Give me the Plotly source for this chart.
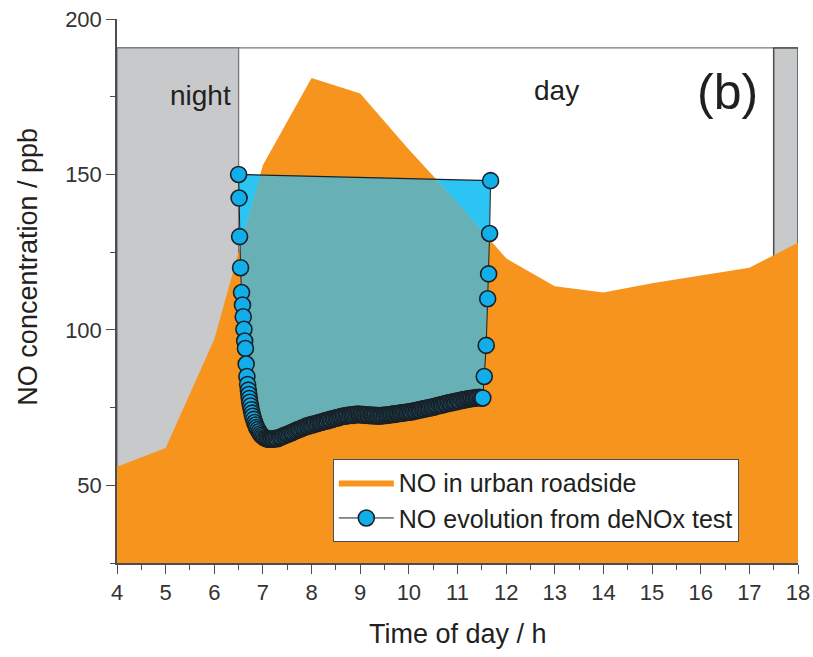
import numpy as np
import plotly.graph_objects as go

# ---------------- data ----------------
# NO in urban roadside (hourly)
road_time = [4, 5, 6, 7, 8, 9, 10, 11, 12, 13, 14, 15, 16, 17, 18]
road_no = [56, 62, 97, 153, 181, 176, 158, 141, 123, 114, 112, 115, 117.5, 120, 128]

# NO evolution from deNOx test (time-ordered)
denox_time = [
    6.500, 6.510, 6.520, 6.540, 6.560, 6.580, 6.595, 6.610, 6.625, 6.640, 6.655, 6.670, 6.685, 6.700,
    6.710, 6.720, 6.730, 6.745, 6.760, 6.775, 6.790, 6.810, 6.830, 6.850, 6.870, 6.895, 6.920, 6.945,
    6.970, 7.000, 7.030, 7.060, 7.090, 7.120, 7.150, 7.180, 7.210, 7.240, 7.270, 7.300, 7.330, 7.360,
    7.390, 7.420, 7.450, 7.480, 7.510, 7.540, 7.570, 7.600, 7.630, 7.660, 7.690, 7.720, 7.750, 7.780,
    7.810, 7.840, 7.870, 7.900, 7.930, 7.960, 7.990, 8.020, 8.050, 8.080, 8.110, 8.140, 8.170, 8.200,
    8.230, 8.260, 8.290, 8.320, 8.350, 8.380, 8.410, 8.440, 8.470, 8.500, 8.530, 8.560, 8.590, 8.620,
    8.650, 8.680, 8.710, 8.740, 8.770, 8.800, 8.830, 8.860, 8.890, 8.920, 8.950, 8.980, 9.010, 9.040,
    9.070, 9.100, 9.130, 9.160, 9.190, 9.220, 9.250, 9.280, 9.310, 9.340, 9.370, 9.400, 9.430, 9.460,
    9.490, 9.520, 9.550, 9.580, 9.610, 9.640, 9.670, 9.700, 9.730, 9.760, 9.790, 9.820, 9.850, 9.880,
    9.910, 9.940, 9.970, 10.000, 10.030, 10.060, 10.090, 10.120, 10.150, 10.180, 10.210, 10.240, 10.270,
    10.300, 10.330, 10.360, 10.390, 10.420, 10.450, 10.480, 10.510, 10.540, 10.570, 10.600, 10.630,
    10.660, 10.690, 10.720, 10.750, 10.780, 10.810, 10.840, 10.870, 10.900, 10.930, 10.960, 10.990,
    11.020, 11.050, 11.080, 11.110, 11.140, 11.170, 11.200, 11.230, 11.260, 11.290, 11.320, 11.350,
    11.380, 11.410, 11.440, 11.470, 11.500, 11.520,
    11.550, 11.590, 11.620, 11.640, 11.660, 11.680,
]
denox_no = [
    150.0, 142.4, 130.0, 120.0, 112.0, 108.0, 104.2, 100.2, 96.4, 94.0, 89.0, 85.0, 82.4, 80.6,
    79.2, 77.9, 76.7, 75.5, 74.3, 73.2, 72.2, 71.2, 70.2, 69.4, 68.6, 67.9, 67.2, 66.6,
    66.1, 65.7, 65.3, 65.1, 64.9, 64.8, 64.8, 64.9, 64.8, 65.0, 65.1, 65.0, 65.3, 65.5,
    65.6, 65.9, 66.0, 66.3, 66.4, 66.6, 66.9, 67.0, 67.2, 67.5, 67.6, 67.9, 68.0, 68.2,
    68.5, 68.6, 68.8, 69.1, 69.0, 69.3, 69.5, 69.4, 69.7, 69.9, 69.8, 70.1, 70.3, 70.2,
    70.5, 70.6, 70.8, 70.7, 71.0, 71.2, 71.1, 71.4, 71.5, 71.7, 71.6, 71.9, 72.0, 72.1,
    72.3, 72.2, 72.4, 72.5, 72.4, 72.6, 72.7, 72.5, 72.8, 72.7, 72.9, 72.8, 72.6, 72.8,
    72.7, 72.5, 72.7, 72.6, 72.4, 72.6, 72.5, 72.3, 72.5, 72.4, 72.2, 72.4, 72.3, 72.5,
    72.4, 72.6, 72.5, 72.7, 72.6, 72.8, 72.9, 72.8, 73.0, 73.1, 73.0, 73.2, 73.3, 73.2,
    73.4, 73.5, 73.4, 73.6, 73.7, 73.6, 73.9, 74.0, 73.9, 74.2, 74.3, 74.2, 74.5,
    74.6, 74.5, 74.8, 74.9, 74.8, 75.1, 75.2, 75.1, 75.4, 75.6, 75.5, 75.8,
    75.9, 75.8, 76.1, 76.3, 76.2, 76.5, 76.6, 76.5, 76.8, 76.9, 76.8, 77.1,
    77.2, 77.1, 77.4, 77.5, 77.4, 77.6, 77.8, 77.7, 77.9, 78.0, 77.9, 78.1,
    78.2, 78.1, 78.3, 78.2, 78.1, 78.1,
    85.0, 95.0, 110.0, 118.0, 131.0, 148.0,
]

# day / night periods
day_start = 4
sunrise = 6.5
sunset = 17.5
day_end = 18
shade_top = 190.7

x_tick_values = list(range(4, 19))
y_tick_values = [50, 100, 150, 200]

# ---------------- colours / fonts ----------------
ORANGE = "#F7941D"
TEAL = "#67B0B5"
CYAN = "#2BC4F3"
MARKER = "#12AEEA"
DARK = "#1A2025"
GREY = "#C8C9CB"
GREY_LINE = "#77787B"
AXIS = "#4D4D4F"
TEXT = "#231F20"
FONT = "Liberation Sans, Arial, sans-serif"

# ---------------- derived fill regions of the deNOx loop ----------------
dx = np.array(denox_time)
dy = np.array(denox_no)
grid = np.union1d(np.linspace(dx.min(), dx.max(), 900), dx)
lower = np.interp(grid, dx, dy)
upper = np.interp(grid, [dx[0], dx[-1]], [dy[0], dy[-1]])
road = np.interp(grid, road_time, road_no)
mid = np.clip(road, lower, upper)

fig = go.Figure()

fig.add_trace(go.Scatter(
    x=road_time, y=road_no, mode="lines", fill="tozeroy",
    fillcolor=ORANGE, line=dict(color=ORANGE, width=0),
    name="NO in urban roadside", hoverinfo="skip", legendrank=1,
))
fig.add_trace(go.Scatter(
    x=grid, y=lower, mode="lines", line=dict(width=0, color=TEAL),
    showlegend=False, hoverinfo="skip",
))
fig.add_trace(go.Scatter(
    x=grid, y=mid, mode="lines", fill="tonexty", fillcolor=TEAL,
    line=dict(width=0, color=TEAL), showlegend=False, hoverinfo="skip",
))
fig.add_trace(go.Scatter(
    x=grid, y=upper, mode="lines", fill="tonexty", fillcolor=CYAN,
    line=dict(width=0, color=CYAN), showlegend=False, hoverinfo="skip",
))
# closing edge of the loop
fig.add_trace(go.Scatter(
    x=[denox_time[-1], denox_time[0]], y=[denox_no[-1], denox_no[0]],
    mode="lines", line=dict(color=DARK, width=1.3),
    showlegend=False, hoverinfo="skip",
))
fig.add_trace(go.Scatter(
    x=denox_time, y=denox_no, mode="lines+markers",
    line=dict(color=DARK, width=1),
    marker=dict(size=16, color=MARKER, line=dict(color=DARK, width=1.6)),
    name="NO evolution from deNOx test", legendrank=2,
))

shapes = [
    dict(type="rect", xref="x", yref="y", x0=day_start, x1=day_end, y0=25, y1=shade_top,
         line=dict(color=GREY_LINE, width=1.3), fillcolor="rgba(0,0,0,0)", layer="below"),
    dict(type="rect", xref="x", yref="y", x0=day_start, x1=sunrise, y0=25, y1=shade_top,
         line=dict(color=GREY_LINE, width=1.3), fillcolor=GREY, layer="below"),
    dict(type="rect", xref="x", yref="y", x0=sunset, x1=day_end, y0=25, y1=shade_top,
         line=dict(color=AXIS, width=1.5), fillcolor=GREY, layer="below"),
]

annotations = [
    dict(text="night", x=6.39, y=175.5, xref="x", yref="y", xanchor="right", yanchor="middle",
         showarrow=False, font=dict(family=FONT, size=28, color=TEXT)),
    dict(text="day", x=13.04, y=177.0, xref="x", yref="y", xanchor="center", yanchor="middle",
         showarrow=False, font=dict(family=FONT, size=28, color=TEXT)),
    dict(text="(b)", x=16.55, y=176.5, xref="x", yref="y", xanchor="center", yanchor="middle",
         showarrow=False, font=dict(family=FONT, size=50, color=TEXT)),
    dict(text="Time of day / h", x=0.5, y=-0.1305, xref="paper", yref="paper",
         xanchor="center", yanchor="middle", showarrow=False,
         font=dict(family=FONT, size=27, color=TEXT)),
    dict(text="NO concentration / ppb", x=-0.132, y=0.545, xref="paper", yref="paper",
         xanchor="center", yanchor="middle", textangle=-90, showarrow=False,
         font=dict(family=FONT, size=27, color=TEXT)),
]

axis_common = dict(
    showgrid=False, zeroline=False, showline=True, linecolor=AXIS, linewidth=1.5,
    ticks="outside", ticklen=9, tickwidth=1.3, tickcolor=AXIS, automargin=False,
    tickfont=dict(family=FONT, size=22, color="#333333"),
)

fig.update_layout(
    width=813, height=657, autosize=False,
    margin=dict(l=117, r=15, t=19, b=94, autoexpand=False),
    paper_bgcolor="white", plot_bgcolor="white",
    font=dict(family=FONT, color=TEXT),
    shapes=shapes, annotations=annotations,
    xaxis=dict(range=[4, 18], tickvals=x_tick_values,
               minor=dict(dtick=0.5, ticks="outside", ticklen=5, tickwidth=1.2, tickcolor=AXIS),
               **axis_common),
    yaxis=dict(range=[25, 200], tickvals=y_tick_values,
               minor=dict(tick0=25, dtick=25, ticks="outside", ticklen=5, tickwidth=1.2, tickcolor=AXIS),
               **axis_common),
    legend=dict(x=0.3169, y=0.1917, xanchor="left", yanchor="top", traceorder="normal",
                bgcolor="white", bordercolor=AXIS, borderwidth=1,
                font=dict(family=FONT, size=25, color=TEXT),
                itemwidth=55, tracegroupgap=0),
    showlegend=True,
)

fig.write_html("out.html")
